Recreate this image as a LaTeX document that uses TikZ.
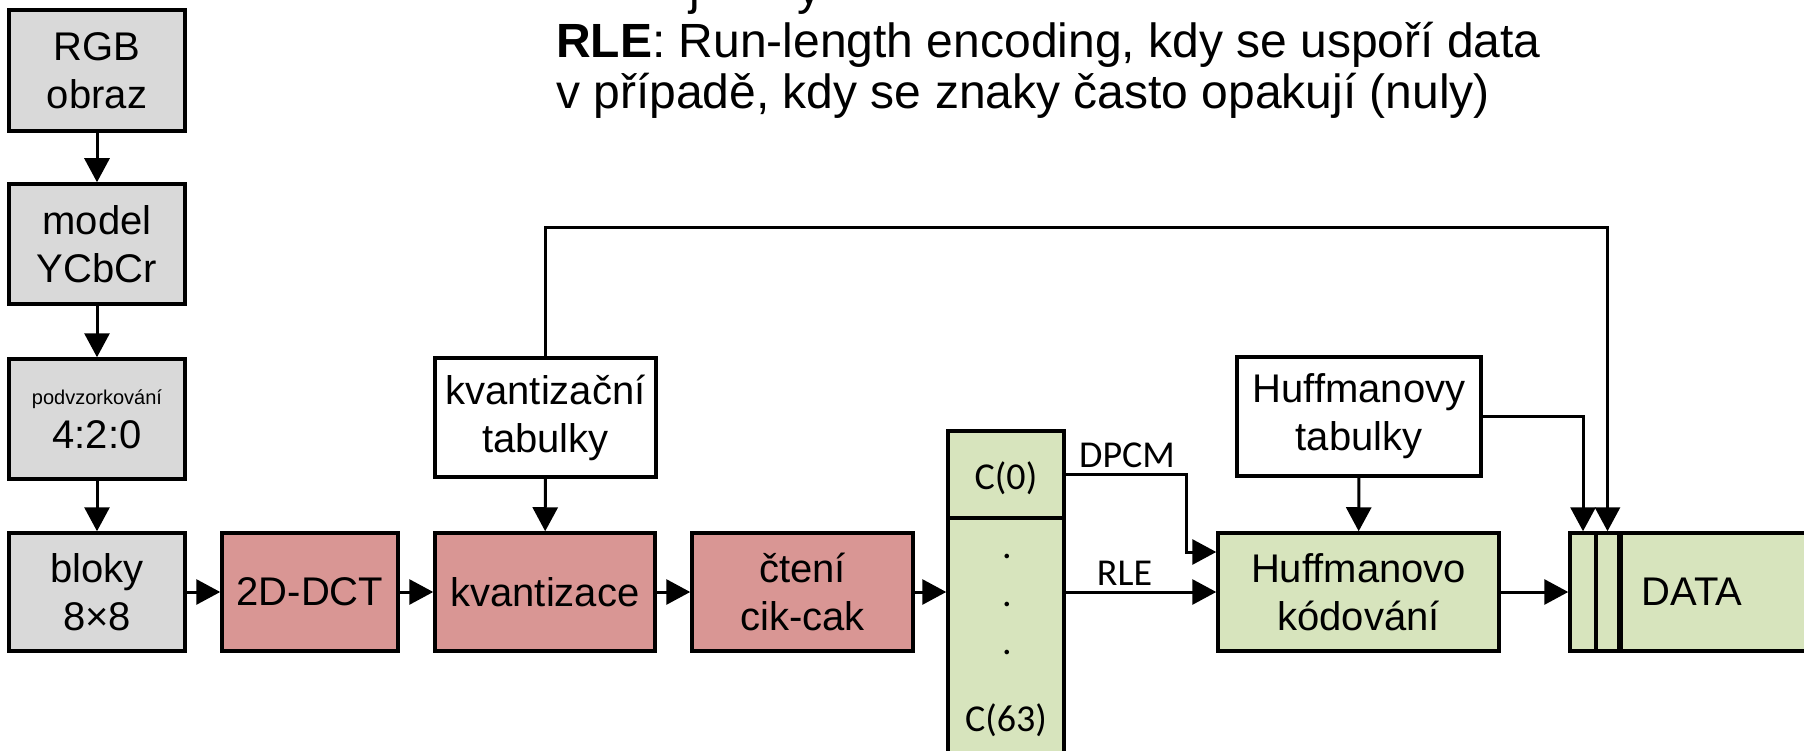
\documentclass[tikz,border=0pt]{standalone}
\usepackage{fontspec}
\setmainfont{Liberation Sans}
\newfontfamily\carlito{Carlito}
\usetikzlibrary{arrows.meta}
\definecolor{boxgrey}{HTML}{D9D9D9}
\definecolor{boxred}{HTML}{D99694}
\definecolor{boxgreen}{HTML}{D7E4BD}

\begin{document}
\begin{tikzpicture}[x=1pt,y=-1pt,
  blk/.style={draw=black, line width=3.5pt, inner sep=0pt, align=center,
    font=\fontsize{40}{48}\selectfont},
  greyblk/.style={blk, fill=boxgrey},
  redblk/.style={blk, fill=boxred},
  greenblk/.style={blk, fill=boxgreen},
  whiteblk/.style={blk, fill=white},
  arr/.style={line width=3pt, -{Triangle[length=24pt,width=25pt]}},
  lbl/.style={inner sep=0pt, font=\carlito\fontsize{38}{44}\selectfont},
  head/.style={inner sep=0pt, anchor=base west, font=\fontsize{48}{52}\selectfont},
]
\useasboundingbox (0,0) rectangle (1804,751);

% heading text (descenders of the line above are cut by the page edge)
\node[head] (hj) at (689,5) {j};
\node[head] (hy) at (797,5) {y};
\node[head] (rle1) at (556,57.5) {\textbf{RLE}: Run-length encoding, kdy se uspoří data};
\node[head] (rle2) at (556,109) {v případě, kdy se znaky často opakují (nuly)};

% left column
\node[greyblk, minimum width=176pt, minimum height=121pt] (rgb) at (97,70.5) {RGB\\obraz};
\node[greyblk, minimum width=176pt, minimum height=120pt] (ycc) at (97,244) {model\\YCbCr};
\node[greyblk, minimum width=176pt, minimum height=120pt,
      font=\fontsize{40}{44}\selectfont] (sub) at (97,419)
      {{\fontsize{20}{24}\selectfont podvzorkování}\\4:2:0};
\node[greyblk, minimum width=176pt, minimum height=118pt] (blk8) at (97,592) {bloky\\8×8};

% processing chain
\node[redblk, minimum width=176pt, minimum height=118pt] (dct) at (310,592) {2D-DCT};
\node[redblk, minimum width=220pt, minimum height=118pt] (kvz) at (545,592) {kvantizace};
\node[redblk, minimum width=221pt, minimum height=118pt] (cik) at (802.5,592) {čtení\\cik-cak};

% table blocks
\node[whiteblk, minimum width=221pt, minimum height=119pt] (kts) at (545.5,417.5) {kvantizační\\tabulky};
\node[whiteblk, minimum width=244pt, minimum height=119pt] (hts) at (1359,416.5) {Huffmanovy\\tabulky};

% coefficient column
\node[greenblk, minimum width=116pt, minimum height=87pt] (c0) at (1006,474.5) {};
\node[greenblk, minimum width=116pt, minimum height=250pt] (crest) at (1006,643) {};
\node[lbl] (c0t) at (1006,478) {C(0)};
\node[lbl] (dot1) at (1007,556) {.};
\node[lbl] (dot2) at (1007,604) {.};
\node[lbl] (dot3) at (1007,652) {.};
\node[lbl] (c63t) at (1006,720) {C(63)};

% entropy coder
\node[greenblk, minimum width=281pt, minimum height=118pt] (huf) at (1358.5,592) {Huffmanovo\\kódování};

% output stream
\node[greenblk, minimum width=26pt, minimum height=118pt] (d1) at (1583,592) {};
\node[greenblk, minimum width=23pt, minimum height=118pt] (d2) at (1607.5,592) {};
\node[greenblk, minimum width=200pt, minimum height=118pt, anchor=west] (d3) at (1619,592) {};
\node[inner sep=0pt, font=\fontsize{40}{48}\selectfont] (datat) at (1692,592) {DATA};

% connectors
\draw[arr] (rgb) -- (ycc);
\draw[arr] (ycc) -- (sub);
\draw[arr] (sub) -- (blk8);
\draw[arr] (blk8) -- (dct);
\draw[arr] (dct) -- (kvz);
\draw[arr] (kvz) -- (cik);
\draw[arr] (cik.east) -- (crest.west |- cik.east);
\draw[arr] (kts) -- (kvz);
\draw[arr] (hts) -- (huf);

\coordinate (bend) at (1186,552);
\draw[arr] (c0.east) -| (bend) -- (huf.west |- bend);
\draw[arr] (crest.east |- huf.west) -- (huf.west);
\node[lbl, anchor=base] (dpcm) at (1127,467) {DPCM};
\node[lbl, anchor=base] (rlel) at (1124.5,585) {RLE};

\draw[arr] (huf.east) -- (d1.west);
\draw[arr] (hts.east) -| (d1.north);
\coordinate (fbk) at (1607.5,228);
\draw[arr] (kts.north) |- (fbk) -- (d2.north);
\end{tikzpicture}
\end{document}
